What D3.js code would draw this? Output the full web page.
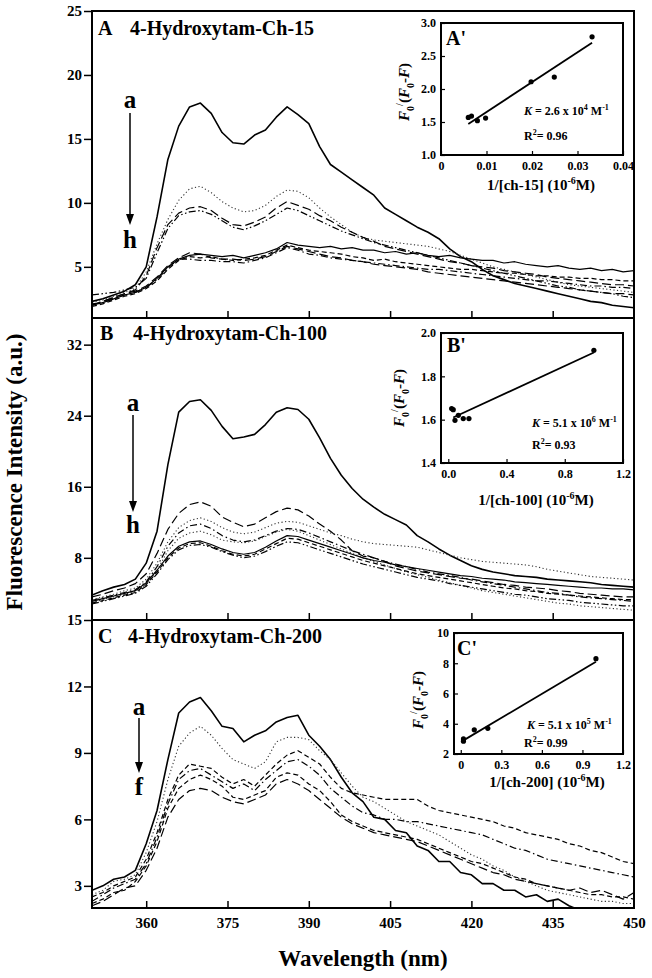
<!DOCTYPE html>
<html><head><meta charset="utf-8">
<script src="https://cdn.jsdelivr.net/npm/d3@7"></script>
<style>
html,body{margin:0;padding:0;background:#fff;}
svg text{font-family:"Liberation Serif","Times New Roman",serif;font-weight:bold;fill:#000;}
</style></head><body>
<svg id="chart" width="652" height="978"></svg>
<script>
// ---------------- DATA ----------------
const wavelengths = [350,352,354,356,358,360,362,364,366,368,370,372,374,376,378,380,382,384,386,388,390,392,394,396,398,400,402,404,406,408,410,412,414,416,418,420,422,424,426,428,430,432,434,436,438,440,442,444,446,448,450];

// Panel A: 4-Hydroxytam-Ch-15 (curves a..h)
const A_a = [2.3,2.5,2.8,3.1,3.6,5.0,8.9,13.4,16.0,17.5,17.8,17.0,15.5,14.7,14.6,15.3,15.7,16.7,17.5,16.9,16.2,14.4,13.0,12.4,11.8,11.2,10.6,9.6,9.1,8.6,8.1,7.7,7.2,6.4,5.8,5.4,4.8,4.3,4.0,3.7,3.5,3.3,3.1,2.9,2.7,2.5,2.3,2.2,2.0,1.9,1.8];
const A_b = [2.2,2.4,2.7,3.0,3.3,4.6,6.8,8.7,10.2,11.1,11.3,10.8,10.1,9.6,9.3,9.4,9.8,10.5,11.0,10.9,10.4,9.6,8.9,8.3,7.7,7.3,7.1,7.0,6.9,6.8,6.7,6.6,6.4,6.2,5.9,5.6,5.3,5.0,4.8,4.6,4.4,4.2,4.0,3.8,3.6,3.5,3.4,3.3,3.2,3.1,3.0];
const A_c = [2.0,2.3,2.6,2.9,3.2,4.3,6.5,8.3,9.2,9.6,9.7,9.4,8.8,8.3,8.2,8.5,8.9,9.6,10.1,9.8,9.5,9.0,8.6,8.1,7.7,7.3,7.0,6.6,6.4,6.2,6.0,5.8,5.6,5.4,5.3,5.1,5.0,4.9,4.7,4.6,4.5,4.4,4.2,4.1,4.0,3.9,3.8,3.7,3.6,3.6,3.5];
const A_d = [2.8,2.9,3.0,3.2,3.4,4.1,6.1,8.0,9.0,9.3,9.4,9.1,8.6,8.1,7.9,8.2,8.6,9.1,9.6,9.4,9.0,8.6,8.2,7.8,7.5,7.2,6.9,6.7,6.5,6.3,6.1,5.9,5.7,5.5,5.3,5.1,4.9,4.7,4.5,4.3,4.1,3.9,3.7,3.5,3.4,3.2,3.1,3.0,2.9,2.7,2.6];
const A_e = [2.0,2.2,2.5,2.8,3.0,3.4,4.1,5.0,5.6,5.9,6.0,5.9,5.8,5.9,5.7,5.9,6.1,6.4,6.9,6.7,6.6,6.5,6.6,6.4,6.5,6.3,6.3,6.1,6.2,6.0,6.1,5.9,5.8,5.9,5.7,5.6,5.5,5.5,5.3,5.4,5.2,5.1,5.0,5.1,4.9,4.8,4.9,4.7,4.8,4.6,4.7];
const A_f = [1.9,2.1,2.4,2.7,2.9,3.3,3.9,4.8,5.5,5.8,5.7,5.8,5.6,5.5,5.6,5.7,5.9,6.3,6.7,6.5,6.3,6.2,6.1,6.0,5.8,5.7,5.5,5.6,5.4,5.3,5.2,5.1,5.0,4.9,4.8,4.8,4.7,4.6,4.5,4.5,4.4,4.3,4.3,4.2,4.2,4.1,4.1,4.0,4.0,3.9,3.9];
const A_g = [2.1,2.2,2.5,2.8,3.0,3.4,4.0,4.9,5.6,5.6,5.5,5.5,5.4,5.4,5.3,5.5,5.7,6.1,6.5,6.3,6.0,5.9,5.7,5.6,5.5,5.4,5.3,5.2,5.1,5.0,4.9,4.8,4.8,4.7,4.6,4.5,4.4,4.3,4.2,4.1,4.0,3.9,3.9,3.8,3.7,3.6,3.5,3.5,3.4,3.4,3.3];
const A_h = [2.0,2.3,2.6,2.9,3.1,3.5,4.2,5.1,5.7,6.1,6.0,5.7,5.6,5.6,5.5,5.6,5.8,6.2,6.6,6.4,6.2,6.0,5.8,5.7,5.5,5.4,5.2,5.1,5.0,4.9,4.8,4.6,4.5,4.4,4.3,4.2,4.1,4.0,3.9,3.8,3.7,3.6,3.5,3.4,3.3,3.2,3.1,3.0,2.9,2.9,2.8];

// Panel B: 4-Hydroxytam-Ch-100 (curves a..h)
const B_a = [3.8,4.3,4.7,5.0,5.6,7.4,11.0,18.5,24.4,25.6,25.8,24.6,22.8,21.4,21.6,21.9,23.0,24.4,24.9,24.7,23.6,21.5,19.2,17.3,15.8,14.6,13.7,12.9,12.3,11.7,10.5,9.8,9.0,8.3,7.7,7.1,6.7,6.4,6.2,6.0,5.9,5.8,5.6,5.5,5.4,5.3,5.2,5.0,4.9,4.8,4.7];
const B_b = [3.6,3.9,4.3,4.6,5.1,6.2,8.5,11.2,13.0,14.0,14.3,13.8,12.6,12.0,11.5,11.8,12.5,13.2,13.6,13.4,12.7,11.8,11.0,10.0,8.8,8.2,8.0,7.6,7.1,6.8,6.5,6.3,6.1,5.9,5.7,5.6,5.4,5.2,5.0,4.9,4.7,4.6,4.5,4.3,4.2,4.0,3.9,3.8,3.7,3.6,3.6];
const B_c = [3.3,3.6,3.9,4.3,4.6,5.6,7.4,9.8,11.4,12.2,12.5,12.1,11.4,10.9,10.7,10.9,11.4,11.9,12.1,12.0,11.6,11.2,10.8,10.5,10.1,9.8,9.6,9.5,9.4,9.3,9.2,8.9,8.6,8.3,8.0,7.8,7.6,7.5,7.4,7.3,7.2,7.0,6.7,6.5,6.3,6.1,5.9,5.8,5.7,5.6,5.5];
const B_d = [3.2,3.5,3.8,4.1,4.4,5.3,7.0,9.3,10.8,11.6,11.8,11.3,10.5,10.0,9.8,10.0,10.5,11.0,11.3,11.2,10.8,10.3,9.8,9.3,8.8,8.4,8.0,7.6,7.3,7.0,6.7,6.4,6.2,6.0,5.8,5.5,5.3,5.1,4.9,4.7,4.5,4.3,4.1,4.0,3.8,3.6,3.5,3.4,3.3,3.2,3.1];
const B_e = [3.0,3.3,3.6,3.9,4.2,5.0,6.6,8.8,10.2,10.8,11.0,10.6,10.0,9.8,9.7,9.9,10.4,10.9,11.2,11.0,10.5,10.0,9.5,9.0,8.5,8.0,7.6,7.2,6.8,6.4,6.1,5.8,5.5,5.2,4.9,4.6,4.3,4.1,3.9,3.7,3.5,3.3,3.1,2.9,2.8,2.6,2.5,2.4,2.3,2.2,2.1];
const B_f = [3.1,3.4,3.7,4.0,4.3,5.2,6.6,8.2,9.3,9.8,9.9,9.5,9.0,8.6,8.4,8.6,9.2,9.9,10.5,10.4,10.0,9.6,9.2,8.8,8.4,8.0,7.7,7.5,7.2,7.0,6.8,6.6,6.4,6.2,6.0,5.9,5.7,5.6,5.5,5.3,5.2,5.1,5.0,4.9,4.8,4.7,4.6,4.6,4.5,4.5,4.4];
const B_g = [2.9,3.2,3.5,3.8,4.1,5.0,6.4,8.0,9.1,9.6,9.7,9.3,8.8,8.4,8.2,8.4,9.0,9.6,10.2,10.1,9.7,9.3,8.9,8.5,8.1,7.7,7.4,7.1,6.8,6.5,6.2,6.0,5.8,5.6,5.4,5.2,5.0,4.8,4.6,4.5,4.3,4.2,4.0,3.9,3.8,3.7,3.6,3.5,3.4,3.3,3.3];
const B_h = [2.8,3.1,3.4,3.7,4.0,4.8,6.2,7.8,8.9,9.4,9.5,9.2,8.7,8.3,8.0,8.2,8.7,9.3,9.8,9.7,9.3,8.9,8.5,8.1,7.7,7.3,7.0,6.7,6.4,6.1,5.8,5.6,5.4,5.1,4.9,4.7,4.5,4.3,4.1,3.9,3.8,3.6,3.4,3.3,3.2,3.0,2.9,2.8,2.7,2.6,2.6];

// Panel C: 4-Hydroxytam-Ch-200 (curves a..f)
const C_a = [2.8,3.0,3.3,3.4,3.7,4.9,6.4,8.7,10.8,11.3,11.5,10.9,10.2,10.1,9.5,9.8,10.0,10.4,10.6,10.7,9.8,9.3,8.7,7.9,7.2,6.8,6.1,6.0,5.5,5.4,4.8,4.6,4.1,4.1,3.6,3.5,3.1,3.1,2.8,2.8,2.5,2.6,2.3,2.4,2.1,1.9,1.8,1.7,1.6,1.5,1.5];
const C_b = [2.6,2.8,3.2,3.3,3.5,4.5,5.9,7.8,9.3,9.9,10.2,9.8,9.2,8.7,8.5,8.3,8.6,9.5,9.7,9.7,9.6,9.1,8.7,8.1,7.5,7.0,6.8,6.5,6.2,5.9,5.7,5.5,5.3,5.0,4.7,4.4,4.2,3.9,3.7,3.4,3.2,3.0,2.8,2.7,2.6,2.5,2.4,2.3,2.3,2.2,2.2];
const C_c = [2.5,2.7,3.0,3.2,3.4,4.2,5.4,6.9,8.0,8.5,8.4,8.3,7.9,7.6,7.8,7.5,8.0,8.5,8.9,9.1,8.8,8.5,7.9,7.4,7.2,7.1,7.0,6.9,6.9,6.9,6.9,6.6,6.4,6.3,6.2,6.1,6.0,5.9,5.7,5.6,5.4,5.3,5.2,5.1,4.9,4.8,4.6,4.5,4.3,4.1,4.0];
const C_d = [2.3,2.6,2.9,3.1,3.3,4.0,5.2,6.7,7.8,8.2,8.3,8.0,7.7,7.4,7.6,7.3,7.8,8.2,8.6,8.7,8.4,8.0,7.4,7.0,6.6,6.3,6.2,6.0,6.0,5.9,5.9,5.8,5.7,5.6,5.5,5.4,5.3,5.1,4.9,4.7,4.6,4.4,4.2,4.1,4.0,3.9,3.8,3.7,3.6,3.5,3.4];
const C_e = [2.2,2.4,2.7,2.8,3.2,3.9,5.0,6.5,7.4,7.8,8.0,7.8,7.5,7.0,6.9,7.1,7.3,7.9,8.1,8.0,7.6,7.3,6.8,6.2,5.9,5.7,5.5,5.4,5.3,5.2,5.1,4.9,4.7,4.5,4.3,4.1,4.0,3.8,3.6,3.4,3.3,3.1,3.0,2.9,2.8,2.7,2.6,2.6,2.5,2.5,2.4];
const C_f = [2.1,2.3,2.6,2.9,3.0,3.7,4.7,6.1,6.9,7.3,7.4,7.3,7.0,6.8,6.7,6.9,7.1,7.6,7.8,7.6,7.3,6.9,6.5,6.1,5.8,5.6,5.4,5.3,5.2,5.1,5.0,4.8,4.6,4.4,4.2,4.0,3.8,3.6,3.5,3.3,3.2,3.1,3.0,2.9,2.8,2.9,2.7,2.8,2.6,2.4,2.7];

// Axis ticks
const xTicks = [360,375,390,405,420,435,450];
const yTicksA = [5,10,15,20,25];
const yTicksB = [8,16,24,32];
const yTicksC = [3,6,9,12,15];

// Insets (double-reciprocal plots)
const insetA_x = [0.0060,0.0067,0.0080,0.0098,0.0198,0.0249,0.0332];
const insetA_y = [1.57,1.59,1.52,1.56,2.11,2.18,2.79];
const fitA_x = [0.006,0.0332];
const fitA_y = [1.47,2.70];
const insetB_x = [0.023,0.034,0.046,0.069,0.103,0.142,1.0];
const insetB_y = [1.651,1.646,1.597,1.620,1.605,1.605,1.92];
const fitB_x = [0.034,1.0];
const fitB_y = [1.61,1.91];
const insetC_x = [0.02,0.02,0.1,0.2,1.0];
const insetC_y = [2.85,3.0,3.6,3.7,8.3];
const fitC_x = [0.02,1.0];
const fitC_y = [2.9,8.1];
const insetTicksAx = [0,0.01,0.02,0.03,0.04];
const insetTicksAy = [1.0,1.5,2.0,2.5,3.0];
const insetTicksBx = [0.0,0.4,0.8,1.2];
const insetTicksBy = [1.4,1.6,1.8,2.0];
const insetTicksCx = [0,0.3,0.6,0.9,1.2];
const insetTicksCy = [2,4,6,8,10];

// ---------------- STYLES / LAYOUT ----------------
const STY = {
  solidT:{w:1.6,dash:null,c:"#000"},
  solid:{w:1.2,dash:null,c:"#000"},
  dotted:{w:1.1,dash:"1.2,2.4",c:"#333"},
  dash:{w:1.2,dash:"5,3",c:"#000"},
  longdash:{w:1.2,dash:"9,4",c:"#000"},
  dashdot:{w:1.2,dash:"7,3,1.5,3",c:"#000"},
  dashdotdot:{w:1.2,dash:"7,2.5,1.5,2.5,1.5,2.5",c:"#000"}
};
const FX0 = 92, FX1 = 634;
const panels = [
  {y0:11, y1:318, dom:[1,25], ticks:yTicksA, letter:"A", title:"4-Hydroxytam-Ch-15", lx:98, tx:130, ty:35,
   arrow:{x:130, a:108, y1:113, y2:225, end:"h", e:248},
   series:[[A_a,"solidT"],[A_b,"dotted"],[A_c,"longdash"],[A_d,"dashdotdot"],[A_e,"solid"],[A_f,"dash"],[A_g,"dashdot"],[A_h,"longdash"]]},
  {y0:318, y1:620, dom:[1,35], ticks:yTicksB, letter:"B", title:"4-Hydroxytam-Ch-100", lx:100, tx:133, ty:340,
   arrow:{x:133, a:411, y1:415, y2:512, end:"h", e:533},
   series:[[B_a,"solidT"],[B_b,"longdash"],[B_c,"dotted"],[B_d,"dashdot"],[B_e,"dotted"],[B_f,"solid"],[B_g,"dash"],[B_h,"dashdotdot"]]},
  {y0:620, y1:908, dom:[2,15], ticks:yTicksC, letter:"C", title:"4-Hydroxytam-Ch-200", lx:98, tx:128, ty:643,
   arrow:{x:139, a:715, y1:718, y2:773, end:"f", e:795},
   series:[[C_a,"solidT"],[C_b,"dotted"],[C_c,"dash"],[C_d,"dashdot"],[C_e,"dash"],[C_f,"longdash"]]}
];
const insets = [
  {x0:441, x1:623, y0:23, y1:155, xd:[0,0.04], yd:[1,3], xt:insetTicksAx, yt:insetTicksAy,
   xf:d=>d===0?"0":d3.format(".2f")(d), yf:d3.format(".1f"),
   px:insetA_x, py:insetA_y, fx:fitA_x, fy:fitA_y, lab:"A'", labX:446, labY:45,
   xtitle:"1/[ch-15] (10", xtX:541, xtY:190, ytX:409, ytY:92,
   K:"2.6 x 10", Kexp:"4", R:"0.96", kx:524, ky:115, rx:524, ry:140},
  {x0:441, x1:623, y0:333, y1:463, xd:[-0.05,1.2], yd:[1.4,2.0], xt:insetTicksBx, yt:insetTicksBy,
   xf:d3.format(".1f"), yf:d3.format(".1f"),
   px:insetB_x, py:insetB_y, fx:fitB_x, fy:fitB_y, lab:"B'", labX:447, labY:352,
   xtitle:"1/[ch-100] (10", xtX:536, xtY:505, ytX:404, ytY:398,
   K:"5.1 x 10", Kexp:"6", R:"0.93", kx:532, ky:427, rx:532, ry:449},
  {x0:454, x1:623, y0:633, y1:754, xd:[-0.05,1.2], yd:[2,10], xt:insetTicksCx, yt:insetTicksCy,
   xf:d=>d===0?"0":d3.format(".1f")(d), yf:d3.format("d"),
   px:insetC_x, py:insetC_y, fx:fitC_x, fy:fitC_y, lab:"C'", labX:457, labY:655,
   xtitle:"1/[ch-200] (10", xtX:547, xtY:787, ytX:423, ytY:700,
   K:"5.1 x 10", Kexp:"5", R:"0.99", kx:527, ky:729, rx:524, ry:747}
];

// ---------------- DRAW ----------------
const svg = d3.select("#chart");
const x = d3.scaleLinear().domain([350,450]).range([FX0,FX1]);

function rich(t, parts, size){
  let shift = 0;
  parts.forEach(p=>{
    const ts = t.append("tspan").text(p.t);
    const target = p.sup ? -size*0.42 : (p.sub ? size*0.3 : 0);
    if (target - shift !== 0) ts.attr("dy", target - shift);
    shift = target;
    if (p.sup || p.sub) ts.attr("font-size", Math.round(size*0.68));
    if (p.i) ts.attr("font-style","italic");
  });
}

const defs = svg.append("defs");
panels.forEach((p,i)=>{
  const y = d3.scaleLinear().domain(p.dom).range([p.y1,p.y0]);
  defs.append("clipPath").attr("id","clip"+i).append("rect")
    .attr("x",FX0).attr("y",p.y0).attr("width",FX1-FX0).attr("height",p.y1-p.y0);
  const g = svg.append("g").attr("clip-path",`url(#clip${i})`);
  const line = d3.line().x((d,j)=>x(wavelengths[j])).y(d=>y(d));
  p.series.forEach(([vals,sk])=>{
    const s = STY[sk];
    g.append("path").datum(vals).attr("d",line).attr("fill","none")
      .attr("stroke",s.c).attr("stroke-width",s.w)
      .attr("stroke-dasharray",s.dash).attr("stroke-linejoin","round");
  });
  const ya = svg.append("g").attr("transform",`translate(${FX0},0)`)
    .call(d3.axisLeft(y).tickValues(p.ticks).tickSize(8).tickPadding(2).tickSizeOuter(0));
  ya.select(".domain").remove();
  ya.selectAll("line").attr("stroke","#000").attr("stroke-width",1.5);
  ya.selectAll("text").attr("font-size",15).attr("font-family",null);
  const xa = svg.append("g").attr("transform",`translate(0,${p.y1})`)
    .call(d3.axisTop(x).tickValues(xTicks.filter(v=>v<450)).tickSize(7).tickSizeOuter(0).tickFormat(""));
  xa.select(".domain").remove();
  xa.selectAll("line").attr("stroke","#000").attr("stroke-width",1.5);
  svg.append("text").attr("x",p.lx).attr("y",p.ty).attr("font-size",20).text(p.letter);
  svg.append("text").attr("x",p.tx).attr("y",p.ty).attr("font-size",20).text(p.title);
  const a = p.arrow;
  svg.append("text").attr("x",a.x).attr("y",a.a).attr("text-anchor","middle").attr("font-size",25).text("a");
  svg.append("text").attr("x",a.x).attr("y",a.e).attr("text-anchor","middle").attr("font-size",25).text(a.end);
  svg.append("line").attr("x1",a.x).attr("x2",a.x).attr("y1",a.y1).attr("y2",a.y2-8)
    .attr("stroke","#000").attr("stroke-width",1.5);
  svg.append("path").attr("d",`M${a.x-4},${a.y2-11}L${a.x+4},${a.y2-11}L${a.x},${a.y2}Z`).attr("fill","#000");
});

const xb = svg.append("g").attr("transform",`translate(0,908)`)
  .call(d3.axisBottom(x).tickValues(xTicks).tickSize(0).tickPadding(9));
xb.select(".domain").remove();
xb.selectAll("text").attr("font-size",15).attr("font-family",null);

svg.append("rect").attr("x",FX0).attr("y",11).attr("width",FX1-FX0).attr("height",908-11)
  .attr("fill","none").attr("stroke","#000").attr("stroke-width",2);
[318,620].forEach(yy=>svg.append("line").attr("x1",FX0).attr("x2",FX1).attr("y1",yy).attr("y2",yy)
  .attr("stroke","#000").attr("stroke-width",2));

insets.forEach(ins=>{
  const xs = d3.scaleLinear().domain(ins.xd).range([ins.x0,ins.x1]);
  const ys = d3.scaleLinear().domain(ins.yd).range([ins.y1,ins.y0]);
  const g = svg.append("g");
  g.append("rect").attr("x",ins.x0).attr("y",ins.y0).attr("width",ins.x1-ins.x0).attr("height",ins.y1-ins.y0)
    .attr("fill","#fff");
  const xa = g.append("g").attr("transform",`translate(0,${ins.y1})`)
    .call(d3.axisBottom(xs).tickValues(ins.xt).tickSize(-4).tickPadding(6).tickFormat(ins.xf).tickSizeOuter(0));
  xa.select(".domain").remove();
  xa.selectAll("line").attr("stroke","#000").attr("stroke-width",1.2);
  xa.selectAll("text").attr("font-size",12).attr("font-family",null);
  const ya = g.append("g").attr("transform",`translate(${ins.x0},0)`)
    .call(d3.axisLeft(ys).tickValues(ins.yt).tickSize(-4).tickPadding(5).tickFormat(ins.yf).tickSizeOuter(0));
  ya.select(".domain").remove();
  ya.selectAll("line").attr("stroke","#000").attr("stroke-width",1.2);
  ya.selectAll("text").attr("font-size",12).attr("font-family",null);
  g.append("rect").attr("x",ins.x0).attr("y",ins.y0).attr("width",ins.x1-ins.x0).attr("height",ins.y1-ins.y0)
    .attr("fill","none").attr("stroke","#000").attr("stroke-width",2);
  g.append("line").attr("x1",xs(ins.fx[0])).attr("y1",ys(ins.fy[0])).attr("x2",xs(ins.fx[1])).attr("y2",ys(ins.fy[1]))
    .attr("stroke","#000").attr("stroke-width",1.8);
  g.selectAll("circle.pt").data(ins.px).enter().append("circle")
    .attr("cx",(d)=>xs(d)).attr("cy",(d,j)=>ys(ins.py[j])).attr("r",2.6).attr("fill","#000");
  g.append("text").attr("x",ins.labX).attr("y",ins.labY).attr("font-size",20).text(ins.lab);
  const xt = g.append("text").attr("x",ins.xtX).attr("y",ins.xtY).attr("text-anchor","middle").attr("font-size",15);
  rich(xt,[{t:ins.xtitle},{t:"-6",sup:1},{t:"M)"}],15);
  const yt = g.append("text").attr("transform",`translate(${ins.ytX},${ins.ytY}) rotate(-90)`)
    .attr("text-anchor","middle").attr("font-size",15);
  rich(yt,[{t:"F",i:1},{t:"0",sub:1},{t:"/",sup:1},{t:"(",},{t:"F",i:1},{t:"0",sub:1},{t:"-"},{t:"F",i:1},{t:")"}],15);
  const kt = g.append("text").attr("x",ins.kx).attr("y",ins.ky).attr("font-size",12);
  rich(kt,[{t:"K",i:1},{t:" = "+ins.K},{t:ins.Kexp,sup:1},{t:" M"},{t:"-1",sup:1}],12);
  const rt = g.append("text").attr("x",ins.rx).attr("y",ins.ry).attr("font-size",12);
  rich(rt,[{t:"R"},{t:"2",sup:1},{t:"= "+ins.R}],12);
});

svg.append("text").attr("transform","translate(22,472) rotate(-90)").attr("text-anchor","middle")
  .attr("font-size",23).text("Fluorescence Intensity (a.u.)");
svg.append("text").attr("x",363).attr("y",966).attr("text-anchor","middle")
  .attr("font-size",23).text("Wavelength (nm)");
</script>
</body></html>
